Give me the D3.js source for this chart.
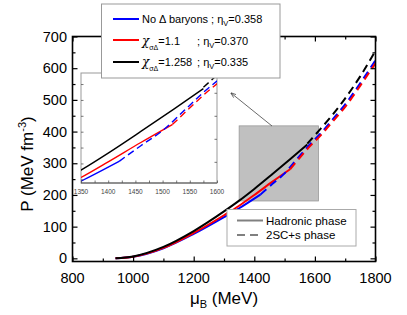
<!DOCTYPE html>
<html>
<head>
<meta charset="utf-8">
<script src="https://cdn.jsdelivr.net/npm/d3@7"></script>
<style>
  body { margin: 0; background: #fff; }
  text { font-family: "Liberation Sans", Arial, sans-serif; }
</style>
</head>
<body>
<script>
const WIDTH = 407;
const HEIGHT = 315;

// hadronic phase (solid) and 2SC+s phase (dashed) branches, mu_B in MeV, P in MeV fm^-3
const muBlueHad = [942, 1000, 1100, 1200, 1300, 1350, 1420];
const pBlueHad = [0, 5, 32, 77, 130, 158, 201];
const muBlueQ = [1420, 1460, 1500, 1540, 1580, 1620, 1660, 1700, 1750, 1800];
const pBlueQ = [201, 235, 268, 312, 356, 395, 440, 486, 553, 625];

const muRedHad = [942, 1000, 1100, 1200, 1300, 1350, 1400, 1460, 1518];
const pRedHad = [0, 5, 33, 80, 136, 166, 200, 242, 281];
const muRedQ = [1518, 1540, 1580, 1620, 1660, 1700, 1750, 1800];
const pRedQ = [281, 306, 350, 389, 433, 478, 545, 616];

const muBlackHad = [942, 1000, 1100, 1200, 1300, 1350, 1400, 1460, 1520, 1575];
const pBlackHad = [0, 6, 36, 86, 148, 182, 219, 266, 314, 359];
const muBlackQ = [1575, 1620, 1660, 1700, 1750, 1800];
const pBlackQ = [362, 410, 455, 505, 575, 655];

const xTicks = [800, 1000, 1200, 1400, 1600, 1800];
const yTicks = [0, 100, 200, 300, 400, 500, 600, 700];
const insetXTicks = [1350, 1400, 1450, 1500, 1550, 1600];

const series = [
    { name: "blue", color: "#0000ff", mu: muBlueHad, p: pBlueHad, dashed: false },
    { name: "red", color: "#ff0000", mu: muRedHad, p: pRedHad, dashed: false },
    { name: "black", color: "#000000", mu: muBlackHad, p: pBlackHad, dashed: false },
    { name: "blue", color: "#0000ff", mu: muBlueQ, p: pBlueQ, dashed: true },
    { name: "red", color: "#ff0000", mu: muRedQ, p: pRedQ, dashed: true },
    { name: "black", color: "#000000", mu: muBlackQ, p: pBlackQ, dashed: true },
];

const svg = d3.select("body").append("svg")
    .attr("width", WIDTH)
    .attr("height", HEIGHT);

const x = d3.scaleLinear().domain([800, 1800]).range([72.5, 375.5]);
const y = d3.scaleLinear().domain([-10, 700]).range([261.5, 36.5]);

// zoom box (grey) in data coords
const zoomBox = { x0: 1350, x1: 1612, y0: 181, y1: 418 };
svg.append("rect")
    .attr("x", x(zoomBox.x0)).attr("y", y(zoomBox.y1))
    .attr("width", x(zoomBox.x1) - x(zoomBox.x0))
    .attr("height", y(zoomBox.y0) - y(zoomBox.y1))
    .attr("fill", "#c0c0c0").attr("stroke", "#999").attr("stroke-width", 0.8);

svg.append("clipPath").attr("id", "clipMain")
    .append("rect").attr("x", 72.5).attr("y", 36.5).attr("width", 303).attr("height", 225);

const toPoints = s => s.mu.map((m, i) => [m, s.p[i]]);

const line = d3.line().x(d => x(d[0])).y(d => y(d[1])).curve(d3.curveMonotoneX);
svg.append("g").attr("clip-path", "url(#clipMain)")
    .selectAll("path").data(series).join("path")
    .attr("d", d => line(toPoints(d)))
    .attr("fill", "none")
    .attr("stroke", d => d.color)
    .attr("stroke-width", 2)
    .attr("stroke-dasharray", d => d.dashed ? "8,5" : null);

// main frame with inward ticks
function tickAxis(g, axis) { g.call(axis); g.select(".domain").remove(); }
const axG = svg.append("g").attr("stroke-width", 1.3);
axG.append("g").attr("transform", `translate(0,${y.range()[0]})`)
    .call(g => tickAxis(g, d3.axisBottom(x).tickValues(d3.range(800, 1801, 100)).tickSize(-5).tickFormat("")));
axG.append("g").attr("transform", `translate(0,${y.range()[1]})`)
    .call(g => tickAxis(g, d3.axisTop(x).tickValues(d3.range(800, 1801, 100)).tickSize(-5).tickFormat("")));
axG.append("g").attr("transform", `translate(${x.range()[0]},0)`)
    .call(g => tickAxis(g, d3.axisLeft(y).tickValues(d3.range(0, 701, 50)).tickSize(-5).tickFormat("")));
axG.append("g").attr("transform", `translate(${x.range()[1]},0)`)
    .call(g => tickAxis(g, d3.axisRight(y).tickValues(d3.range(0, 701, 50)).tickSize(-5).tickFormat("")));
axG.selectAll(".tick line").attr("stroke", "#000").attr("stroke-width", 1.2);
// minor ticks shorter
axG.selectAll(".tick").filter(d => d % 200 !== 0 && d > 700 || (d <= 700 && d % 100 !== 0))
    .select("line").attr("transform", function () { return ""; })
    .each(function () {
        const l = d3.select(this);
        ["x2", "y2"].forEach(k => { const v = +l.attr(k); if (v) l.attr(k, v * 0.6); });
    });
svg.append("rect")
    .attr("x", x.range()[0]).attr("y", y.range()[1])
    .attr("width", x.range()[1] - x.range()[0])
    .attr("height", y.range()[0] - y.range()[1])
    .attr("fill", "none").attr("stroke", "#000").attr("stroke-width", 1.6);

// tick labels
svg.append("g").selectAll("text").data(xTicks).join("text")
    .attr("x", d => x(d)).attr("y", 283)
    .attr("text-anchor", "middle").attr("font-size", 14.5)
    .text(d => d);
svg.append("g").selectAll("text").data(yTicks).join("text")
    .attr("x", 67).attr("y", d => y(d) + 5)
    .attr("text-anchor", "end").attr("font-size", 14.5)
    .text(d => d);

// axis titles
const xt = svg.append("text").attr("x", 224).attr("y", 304)
    .attr("text-anchor", "middle").attr("font-size", 17);
xt.append("tspan").text("μ");
xt.append("tspan").attr("font-size", 11).attr("dy", 4).text("B");
xt.append("tspan").attr("dy", -4).text(" (MeV)");

const yt = svg.append("text").attr("transform", "translate(33,164) rotate(-90)")
    .attr("text-anchor", "middle").attr("font-size", 17);
yt.append("tspan").text("P (MeV fm");
yt.append("tspan").attr("font-size", 11).attr("dy", -7).text("-3");
yt.append("tspan").attr("dy", 7).text(")");

// inset
const ix = d3.scaleLinear().domain([1350, 1600]).range([81, 217]);
const iy = d3.scaleLinear().domain([154, 393]).range([183, 73]);
const inset = svg.append("g");
inset.append("rect").attr("x", 81).attr("y", 73).attr("width", 136).attr("height", 110)
    .attr("fill", "#fff").attr("stroke", "#999").attr("stroke-width", 1);
inset.append("clipPath").attr("id", "clipInset")
    .append("rect").attr("x", 81).attr("y", 73).attr("width", 136).attr("height", 110);
const iline = d3.line().x(d => ix(d[0])).y(d => iy(d[1])).curve(d3.curveMonotoneX);
inset.append("g").attr("clip-path", "url(#clipInset)")
    .selectAll("path").data(series).join("path")
    .attr("d", d => iline(toPoints(d)))
    .attr("fill", "none")
    .attr("stroke", d => d.color)
    .attr("stroke-width", 1.4)
    .attr("stroke-dasharray", d => d.dashed ? "7,4" : null);
const insetAx = inset.append("g").attr("stroke-width", 0.8);
insetAx.append("g").attr("transform", "translate(0,183)")
    .call(g => tickAxis(g, d3.axisBottom(ix).tickValues(d3.range(1350, 1601, 25)).tickSize(-2.5).tickFormat("")));
insetAx.append("g").attr("transform", "translate(81,0)")
    .call(g => tickAxis(g, d3.axisLeft(iy).tickValues(d3.range(162, 380, 34.5)).tickSize(-2.5).tickFormat("")));
insetAx.append("g").attr("transform", "translate(217,0)")
    .call(g => tickAxis(g, d3.axisRight(iy).tickValues([200, 250, 300, 350]).tickSize(-2.5).tickFormat("")));
insetAx.selectAll(".tick line").attr("stroke", "#555");
inset.append("line").attr("x1", 81).attr("x2", 217).attr("y1", 183).attr("y2", 183)
    .attr("stroke", "#555").attr("stroke-width", 1);
inset.append("g").selectAll("text").data(insetXTicks).join("text")
    .attr("x", d => ix(d)).attr("y", 194)
    .attr("text-anchor", "middle").attr("font-size", 6.5).attr("fill", "#444")
    .text(d => d);

// arrow from zoom box to inset
svg.append("defs").append("marker").attr("id", "arrow")
    .attr("viewBox", "0 0 10 10").attr("refX", 9).attr("refY", 5)
    .attr("markerWidth", 7).attr("markerHeight", 7).attr("orient", "auto")
    .append("path").attr("d", "M0,1.5 L10,5 L0,8.5").attr("fill", "none").attr("stroke", "#333").attr("stroke-width", 1.2);
svg.append("line").attr("x1", 272).attr("y1", 126).attr("x2", 231).attr("y2", 93)
    .attr("stroke", "#444").attr("stroke-width", 0.8).attr("marker-end", "url(#arrow)");

// legend 1
const leg1 = svg.append("g");
leg1.append("rect").attr("x", 101.5).attr("y", 4).attr("width", 178.5).attr("height", 74)
    .attr("fill", "#fff").attr("stroke", "#999").attr("stroke-width", 1);
const leg1Rows = [
    { color: "#0000ff", y: 19 },
    { color: "#ff0000", y: 40 },
    { color: "#000000", y: 62 },
];
leg1.selectAll("line").data(leg1Rows).join("line")
    .attr("x1", 113).attr("x2", 139).attr("y1", d => d.y).attr("y2", d => d.y)
    .attr("stroke", d => d.color).attr("stroke-width", 2);

function eta(t, val) {
    t.append("tspan").text("η");
    t.append("tspan").attr("font-size", 7.5).attr("dy", 3).text("V");
    t.append("tspan").attr("dy", -3).text("=" + val);
}
const r1 = leg1.append("text").attr("x", 142).attr("y", 23).attr("font-size", 11);
r1.append("tspan").text("No Δ baryons ; ");
eta(r1, "0.358");

function chiRow(yb, val, etaVal) {
    const t = leg1.append("text").attr("x", 142).attr("y", yb).attr("font-size", 11);
    t.append("tspan").attr("font-family", "DejaVu Serif").attr("font-style", "italic").attr("font-size", 12).text("χ");
    t.append("tspan").attr("font-size", 7).attr("dy", 5).text("σΔ");
    t.append("tspan").attr("dy", -5).text("=" + val);
    const t2 = leg1.append("text").attr("x", 197).attr("y", yb).attr("font-size", 11);
    t2.append("tspan").text("; ");
    eta(t2, etaVal);
}
chiRow(45, "1.1", "0.370");
chiRow(66, "1.258", "0.335");

// legend 2
const leg2 = svg.append("g");
leg2.append("rect").attr("x", 227).attr("y", 209.5).attr("width", 129).attr("height", 36.5)
    .attr("fill", "#fff").attr("stroke", "#aaa").attr("stroke-width", 1);
leg2.append("line").attr("x1", 237).attr("x2", 263).attr("y1", 220.5).attr("y2", 220.5)
    .attr("stroke", "#808080").attr("stroke-width", 2);
leg2.append("line").attr("x1", 237).attr("x2", 263).attr("y1", 235).attr("y2", 235)
    .attr("stroke", "#808080").attr("stroke-width", 2).attr("stroke-dasharray", "8,5");
leg2.append("text").attr("x", 266).attr("y", 224.5).attr("font-size", 11.5).text("Hadronic phase");
leg2.append("text").attr("x", 266).attr("y", 239).attr("font-size", 11.5).text("2SC+s phase");
</script>
</body>
</html>
